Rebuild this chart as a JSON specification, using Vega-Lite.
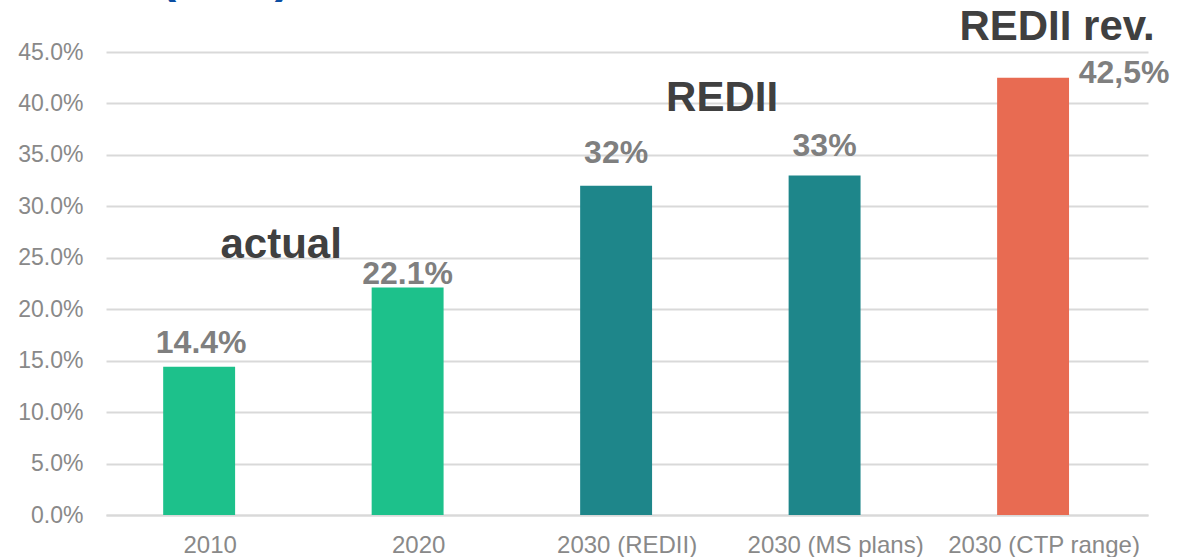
{
  "$schema": "https://vega.github.io/schema/vega-lite/v6.json",
  "autosize": {"type": "none"},
  "width": 1042,
  "height": 463,
  "padding": {"left": 106, "top": 52, "right": 41, "bottom": 42},
  "background": "white",
  "config": {
    "font": "Liberation Sans",
    "view": {"stroke": null}
  },
  "datasets": {
    "bars": [
      {"category": "2010", "value": 14.4, "label": "14.4%", "group": "actual"},
      {"category": "2020", "value": 22.1, "label": "22.1%", "group": "actual"},
      {"category": "2030 (REDII)", "value": 32, "label": "32%", "group": "REDII"},
      {"category": "2030 (MS plans)", "value": 33, "label": "33%", "group": "REDII"},
      {"category": "2030 (CTP range)", "value": 42.5, "label": "42,5%", "group": "REDII rev."}
    ],
    "notes": [
      {"category": "2010", "value": 25.0, "text": "actual"},
      {"category": "2030 (REDII)", "value": 39.3, "text": "REDII"},
      {"category": "2030 (CTP range)", "value": 46.2, "text": "REDII rev."},
      {"category": "2010", "value": 50.85, "text": "(RES)"}
    ]
  },
  "encoding": {
    "x": {
      "field": "category", "type": "nominal", "sort": null,
      "scale": {"paddingInner": 0.655, "paddingOuter": 0.3265, "align": 0.42},
      "axis": {
        "title": null, "labelAngle": 0, "labelFontSize": 24, "labelColor": "#898989",
        "labelPadding": 18, "labelOffset": 11, "labelLimit": 400, "ticks": false, "domainColor": "#d9d9d9", "domainWidth": 2,
        "grid": false
      }
    },
    "y": {
      "field": "value", "type": "quantitative",
      "scale": {"domain": [0, 45], "nice": false},
      "axis": {
        "title": null, "values": [0, 5, 10, 15, 20, 25, 30, 35, 40, 45],
        "labelExpr": "format(datum.value, '.1f') + '%'",
        "labelFontSize": 23, "labelColor": "#898989", "labelPadding": 23,
        "ticks": false, "domain": false, "gridColor": "#d9d9d9", "gridWidth": 2
      }
    }
  },
  "layer": [
    {
      "data": {"name": "bars"},
      "mark": {"type": "bar"},
      "encoding": {
        "color": {
          "field": "group", "type": "nominal", "legend": null,
          "scale": {"domain": ["actual", "REDII", "REDII rev."], "range": ["#1DC18B", "#1E868A", "#E86B52"]}
        }
      }
    },
    {
      "data": {"name": "bars"},
      "transform": [{"filter": "datum.category == '2010'"}],
      "mark": {"type": "text", "baseline": "alphabetic", "dx": 2, "dy": -14, "fontSize": 32, "fontWeight": "bold", "color": "#7f7f7f"},
      "encoding": {"text": {"field": "label"}}
    },
    {
      "data": {"name": "bars"},
      "transform": [{"filter": "datum.category == '2020'"}],
      "mark": {"type": "text", "baseline": "alphabetic", "dy": -4, "fontSize": 32, "fontWeight": "bold", "color": "#7f7f7f"},
      "encoding": {"text": {"field": "label"}}
    },
    {
      "data": {"name": "bars"},
      "transform": [{"filter": "datum.category == '2030 (REDII)'"}],
      "mark": {"type": "text", "baseline": "alphabetic", "dy": -23, "fontSize": 32, "fontWeight": "bold", "color": "#7f7f7f"},
      "encoding": {"text": {"field": "label"}}
    },
    {
      "data": {"name": "bars"},
      "transform": [{"filter": "datum.category == '2030 (MS plans)'"}],
      "mark": {"type": "text", "baseline": "alphabetic", "dy": -19, "fontSize": 32, "fontWeight": "bold", "color": "#7f7f7f"},
      "encoding": {"text": {"field": "label"}}
    },
    {
      "data": {"name": "bars"},
      "transform": [{"filter": "datum.category == '2030 (CTP range)'"}],
      "mark": {"type": "text", "baseline": "alphabetic", "dx": 91, "dy": 5, "fontSize": 32, "fontWeight": "bold", "color": "#7f7f7f"},
      "encoding": {"text": {"field": "label"}}
    },
    {
      "data": {"name": "notes"},
      "transform": [{"filter": "datum.text == 'actual'"}],
      "mark": {"type": "text", "baseline": "alphabetic", "dx": 82, "fontSize": 42, "fontWeight": "bold", "color": "#404040"},
      "encoding": {"text": {"field": "text"}}
    },
    {
      "data": {"name": "notes"},
      "transform": [{"filter": "datum.text == 'REDII'"}],
      "mark": {"type": "text", "baseline": "alphabetic", "dx": 106, "fontSize": 42, "fontWeight": "bold", "color": "#404040"},
      "encoding": {"text": {"field": "text"}}
    },
    {
      "data": {"name": "notes"},
      "transform": [{"filter": "datum.text == 'REDII rev.'"}],
      "mark": {"type": "text", "baseline": "alphabetic", "dx": 24, "fontSize": 42, "fontWeight": "bold", "color": "#404040"},
      "encoding": {"text": {"field": "text"}}
    },
    {
      "data": {"name": "notes"},
      "transform": [{"filter": "datum.text == '(RES)'"}],
      "mark": {"type": "text", "baseline": "alphabetic", "align": "left", "dx": -39, "fontSize": 48, "fontWeight": "bold", "color": "#0B4EA2"},
      "encoding": {"text": {"field": "text"}}
    }
  ]
}
